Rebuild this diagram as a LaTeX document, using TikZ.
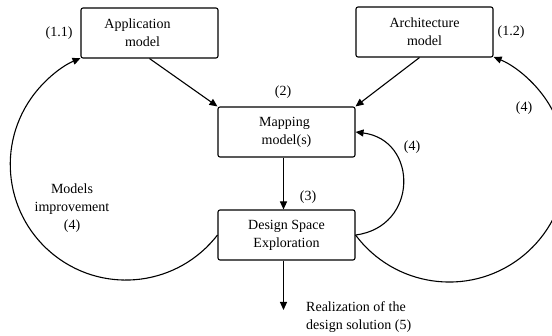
\documentclass[tikz,border=0pt]{standalone}
\usepackage{fontspec}
\setmainfont{Liberation Serif}
\usetikzlibrary{arrows.meta}
\begin{document}
\begin{tikzpicture}[x=1pt,y=1pt,
  every node/.style={font=\fontsize{14}{18}\selectfont},
  box/.style={draw, rounded corners=2pt, line width=1.1pt, minimum width=137pt, minimum height=50pt, align=center, inner sep=0pt},
  conn/.style={line width=1.1pt, -{Triangle[length=8pt,width=7pt]}},
  lbl/.style={inner sep=0pt, align=center}]
\useasboundingbox (0,0) rectangle (552,335);
\clip (0,0) rectangle (552,335);
% boxes
\node[box] (app) at (149.5,302) {Application\hspace*{24pt}\\model\hspace*{14pt}};
\node[box] (arch) at (424.5,303) {Architecture\\model};
\node[box] (map) at (286.5,203) {Mapping\hspace*{4pt}\\model(s)};
\node[box] (dse) at (286.5,100) {Design Space\\Exploration};
% labels
\node[lbl] (l11) at (59,302) {(1.1)};
\node[lbl] (l12) at (511,303) {(1.2)};
\node[lbl] (l2) at (283,243) {(2)};
\node[lbl] (l3) at (308,138) {(3)};
\node[lbl] (l4a) at (524,227) {(4)};
\node[lbl] (l4b) at (412,188) {(4)};
\node[lbl] (l4c) at (72,127) {Models\\improvement\\(4)};
\node[lbl, anchor=west, align=left] (l5) at (306,18) {Realization of the\\design solution (5)};
% connectors
\coordinate (real) at (283.5,25);
\draw[conn] (app.south) -- (map.north west);
\draw[conn] ([xshift=-5pt]arch.south) -- (map.north east);
\draw[conn] ([xshift=-3pt]map.south) -- ([xshift=-3pt]dse.north);
\draw[conn] ([xshift=-3pt]dse.south) -- (real);
\draw[conn] (dse.west) arc[start angle=-37.6, end angle=-246.9, radius=115.6];
\draw[conn] (dse.east) arc[start angle=-143.3, end angle=67.7, radius=116.9];
\draw[conn] (dse.east) .. controls +(63,8) and +(63,-8) .. (map.east);
\end{tikzpicture}
\end{document}
